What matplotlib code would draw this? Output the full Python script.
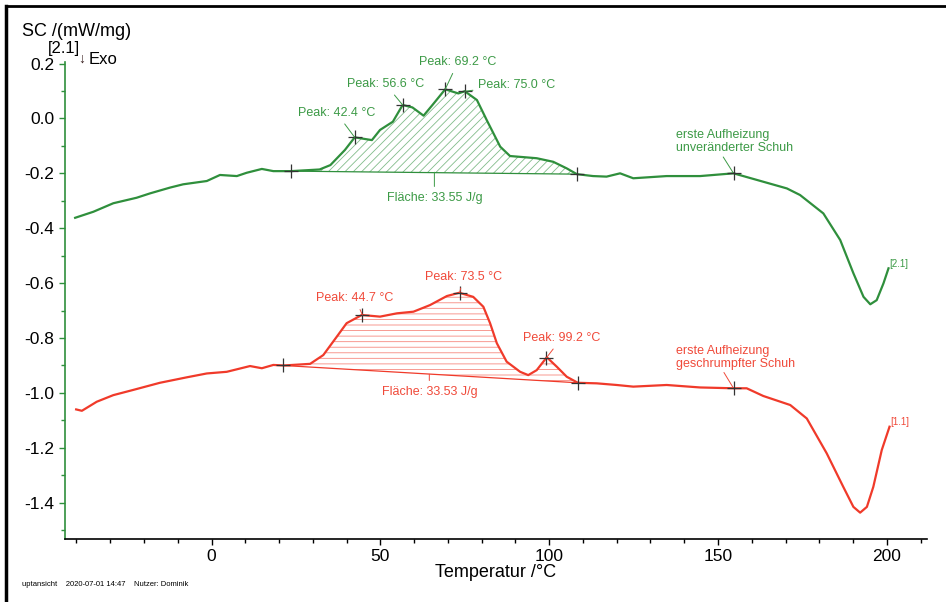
import numpy as np
import matplotlib
matplotlib.use("Agg")
import matplotlib.pyplot as plt
from matplotlib.ticker import MultipleLocator
from matplotlib.lines import Line2D

plt.rcParams['font.family'] = ['Liberation Sans', 'DejaVu Sans']

# [2.1] erste Aufheizung, unveränderter Schuh
temp_green = [-40.4, -35, -29.1, -22.2, -18.2, -12.3, -8.4, -1.4, 2.5, 7.5, 10.4, 14.9, 18.3, 23.5,
              29.2, 32.0, 35.2, 39.5, 42.4, 47.5, 49.9, 53.7, 56.6, 59.5, 62.8, 65.5, 69.2, 73.1, 75.0,
              78.6, 81.5, 85.5, 88.4, 96.3, 101.2, 105.2, 108.2, 113.0, 117.0, 121.0, 124.9, 134.8,
              144.7, 154.6, 161.5, 170.4, 174.3, 181.2, 186.2, 190.1, 193.1, 195.1, 197.0, 199.0, 200.5]
dsc_green = [-0.362, -0.340, -0.309, -0.289, -0.273, -0.252, -0.240, -0.228, -0.206, -0.210, -0.198,
             -0.184, -0.192, -0.192, -0.188, -0.186, -0.170, -0.115, -0.069, -0.079, -0.042, -0.012,
             0.049, 0.040, 0.010, 0.050, 0.106, 0.091, 0.099, 0.067, -0.006, -0.103, -0.137, -0.145,
             -0.158, -0.182, -0.203, -0.210, -0.212, -0.200, -0.218, -0.210, -0.210, -0.200, -0.224,
             -0.255, -0.279, -0.346, -0.443, -0.564, -0.650, -0.677, -0.662, -0.601, -0.546]

# [1.1] erste Aufheizung, geschrumpfter Schuh
temp_red = [-40.1, -38.4, -34.0, -29.1, -23.2, -15.3, -7.3, -1.4, 4.5, 11.4, 14.9, 18.3, 21.3, 29.2,
            33.1, 37.1, 40.0, 44.5, 49.9, 54.9, 59.8, 64.7, 69.7, 73.4, 77.5, 80.5, 82.5, 84.5, 87.4,
            91.4, 93.8, 96.3, 99.3, 102.3, 105.2, 108.5, 114.1, 120.0, 124.9, 134.8, 144.7, 154.6,
            158.5, 163.4, 171.4, 176.3, 182.2, 187.1, 190.1, 192.1, 194.1, 196.0, 198.5, 200.8]
dsc_red = [-1.060, -1.065, -1.032, -1.008, -0.989, -0.963, -0.943, -0.929, -0.923, -0.902, -0.910,
           -0.898, -0.900, -0.894, -0.862, -0.795, -0.746, -0.716, -0.722, -0.710, -0.704, -0.680,
           -0.647, -0.635, -0.650, -0.686, -0.746, -0.819, -0.886, -0.923, -0.935, -0.917, -0.870,
           -0.905, -0.941, -0.963, -0.965, -0.971, -0.977, -0.971, -0.980, -0.983, -0.983, -1.011,
           -1.044, -1.093, -1.220, -1.342, -1.415, -1.436, -1.415, -1.342, -1.208, -1.123]

# integration limits (start, end) and areas
area_green = (23.5, 108.2, "Fläche: 33.55 J/g")
area_red = (21.3, 108.5, "Fläche: 33.53 J/g")

peaks_green = [42.4, 56.6, 69.2, 75.0]
peaks_red = [44.7, 73.5, 99.2]

GREEN = "#2f8f3c"
GREEN_TXT = "#3c9a46"
RED = "#f03a2a"
RED_TXT = "#f04a3a"

fig = plt.figure(figsize=(9.46, 6.02), dpi=100)
ax = fig.add_axes([65/946, 1 - 539/602, (927-65)/946, (539-61.7)/602])

tg = np.array(temp_green); yg = np.array(dsc_green)
tr = np.array(temp_red); yr = np.array(dsc_red)

ax.plot(tg, yg, color=GREEN, lw=1.6, zorder=3, solid_joinstyle="round")
ax.plot(tr, yr, color=RED, lw=1.6, zorder=3, solid_joinstyle="round")


def hatched_area(t, y, start, end, color, hatch):
    t0, t1 = start, end
    y0, y1 = np.interp(t0, t, y), np.interp(t1, t, y)
    tt = np.linspace(t0, t1, 300)
    cur = np.interp(tt, t, y)
    base = y0 + (y1 - y0) * (tt - t0) / (t1 - t0)
    ax.fill_between(tt, base, cur, where=cur >= base, facecolor="none",
                    edgecolor=color, hatch=hatch, lw=0, alpha=0.6, zorder=2)
    ax.plot([t0, t1], [y0, y1], color=color, lw=0.9, zorder=2)
    return (t0, y0), (t1, y1)


plt.rcParams['hatch.linewidth'] = 0.6
(gs, gs_y), (ge, ge_y) = hatched_area(tg, yg, area_green[0], area_green[1], GREEN, "////")
(rs, rs_y), (re_, re_y) = hatched_area(tr, yr, area_red[0], area_red[1], RED, "---")


def cross(x, y):
    ax.plot([x], [y], marker="+", ms=10, mew=0.9, color="#333333", zorder=5)


for x, y in [(gs, gs_y), (ge, ge_y), (154.6, -0.200)]:
    cross(x, y)
for x, y in [(rs, rs_y), (re_, re_y), (154.6, -0.983)]:
    cross(x, y)


def label(text, xy, xytext, color, ha="center"):
    ax.annotate(text, xy=xy, xytext=xytext, color=color, fontsize=9, ha=ha, va="center",
                arrowprops=dict(arrowstyle="-", color=color, lw=0.7, shrinkA=2, shrinkB=0),
                zorder=6)


# green peak labels (text positions in data coordinates)
g_text = [(37.0, 0.020), (51.5, 0.125), (73.0, 0.205), (90.5, 0.122)]
for p, xt in zip(peaks_green, g_text):
    py = np.interp(p, tg, yg)
    cross(p, py)
    label(f"Peak: {p:.1f} °C", (p, py), xt, GREEN_TXT)
label(area_green[2], (66.0, -0.196), (66.0, -0.290), GREEN_TXT)
ax.annotate("erste Aufheizung\nunveränderter Schuh", xy=(154.6, -0.200), xytext=(137.5, -0.085),
            color=GREEN_TXT, fontsize=9, ha="left", va="center", linespacing=1.1,
            arrowprops=dict(arrowstyle="-", color=GREEN_TXT, lw=0.7, shrinkA=0, shrinkB=0,
                            relpos=(0.39, 0.0)))
ax.text(200.6, -0.529, "[2.1]", color=GREEN_TXT, fontsize=7, ha="left", va="center")

# red peak labels
r_text = [(42.5, -0.655), (74.5, -0.576), (103.7, -0.800)]
for p, xt in zip(peaks_red, r_text):
    py = np.interp(p, tr, yr)
    cross(p, py)
    label(f"Peak: {p:.1f} °C", (p, py), xt, RED_TXT)
label(area_red[2], (64.5, -0.932), (64.5, -0.997), RED_TXT)
ax.annotate("erste Aufheizung\ngeschrumpfter Schuh", xy=(154.6, -0.983), xytext=(137.5, -0.870),
            color=RED_TXT, fontsize=9, ha="left", va="center", linespacing=1.1,
            arrowprops=dict(arrowstyle="-", color=RED_TXT, lw=0.7, shrinkA=0, shrinkB=0,
                            relpos=(0.39, 0.0)))
ax.text(200.9, -1.107, "[1.1]", color=RED_TXT, fontsize=7, ha="left", va="center")

# axes styling
ax.set_xlim(-43.4, 211.9)
ax.set_ylim(-1.532, 0.2066)
ax.xaxis.set_major_locator(MultipleLocator(50))
ax.xaxis.set_minor_locator(MultipleLocator(10))
ax.yaxis.set_major_locator(MultipleLocator(0.2))
ax.yaxis.set_minor_locator(MultipleLocator(0.1))
ax.yaxis.set_major_formatter(matplotlib.ticker.FuncFormatter(lambda v, p: f"{v:.1f}".replace("-0.0", "0.0")))
for s in ["top", "right"]:
    ax.spines[s].set_visible(False)
ax.spines["left"].set_color(GREEN)
ax.spines["left"].set_linewidth(1.2)
ax.spines["bottom"].set_linewidth(1.2)
ax.tick_params(axis="both", which="major", labelsize=12.5, length=4, width=1)
ax.tick_params(axis="both", which="minor", length=3, width=1)
ax.tick_params(axis="y", which="both", color=GREEN)
ax.tick_params(axis="x", pad=3)
ax.set_xlabel("Temperatur /°C", fontsize=13, labelpad=0)

# header / footer texts
fig.text(22/946, 1 - 32/602, "SC /(mW/mg)", fontsize=13, ha="left", va="center")
fig.text(48/946, 1 - 48/602, "[2.1]", fontsize=12, ha="left", va="center")
fig.text(78/946, 1 - 59/602, "↓", fontsize=10, ha="left", va="center", color="#3a2020")
fig.text(89/946, 1 - 59/602, "Exo", fontsize=12, ha="left", va="center")
fig.text(22/946, 1 - 585/602, "uptansicht    2020-07-01 14:47    Nutzer: Dominik", fontsize=5.5,
         ha="left", va="center")

# outer frame (top and left edges)
fig.add_artist(Line2D([6/946, 6/946], [0, 1 - 6/602], color="black", lw=2.5, transform=fig.transFigure))
fig.add_artist(Line2D([6/946, 1], [1 - 6/602, 1 - 6/602], color="black", lw=2, transform=fig.transFigure))

fig.savefig("out.png", dpi=100)
